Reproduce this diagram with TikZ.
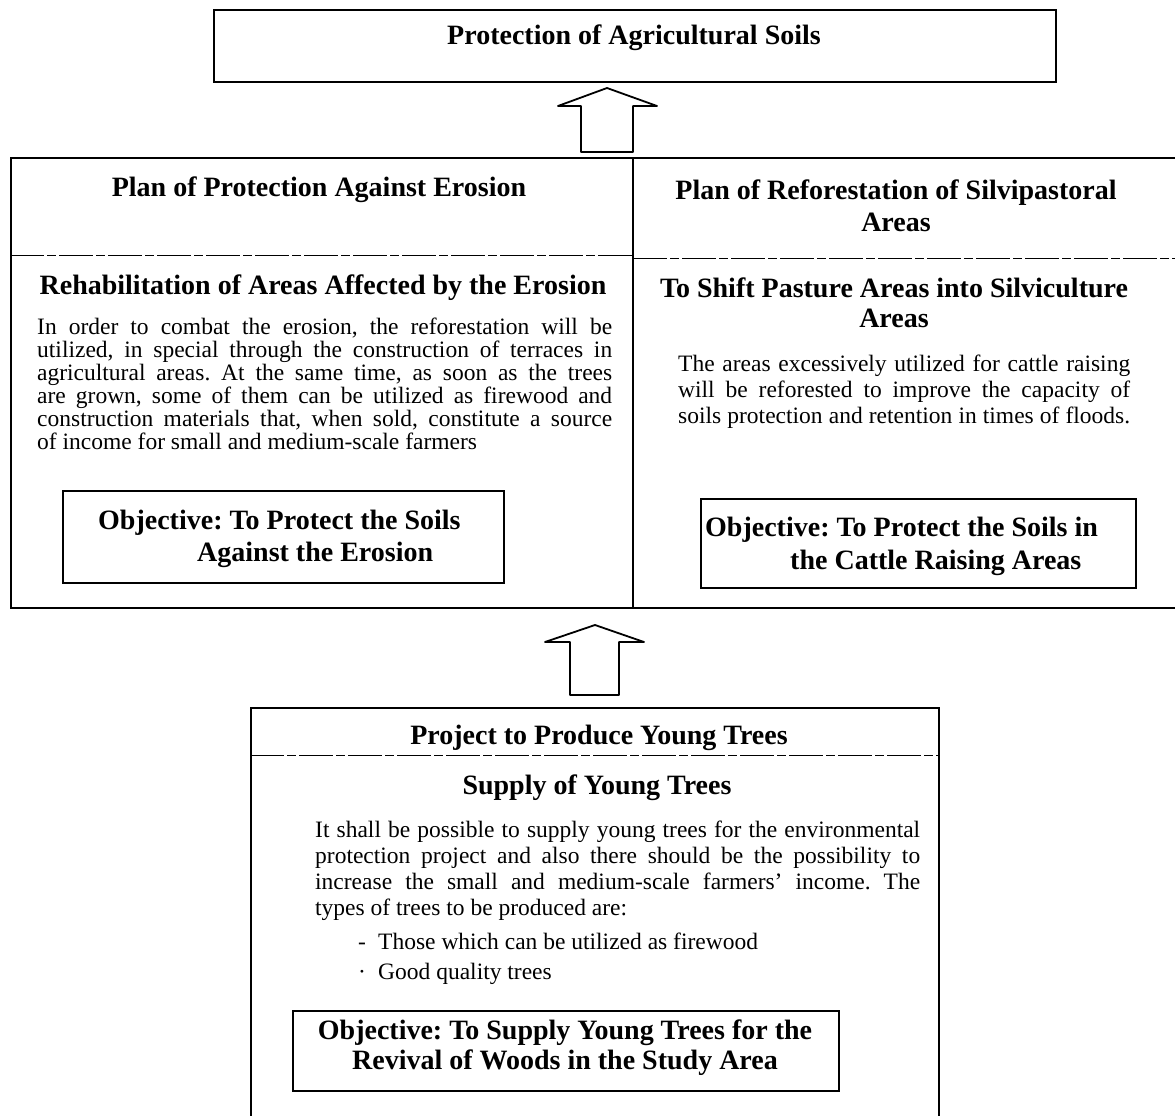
\documentclass[tikz,border=0pt]{standalone}
\usepackage{fontspec}
\setmainfont{Liberation Serif}
\frenchspacing
\newcommand\hdfont{\fontsize{28}{32}\selectfont\bfseries}
\newcommand\bdfont{\fontsize{23.5}{23}\selectfont\frenchspacing}
\begin{document}
\begin{tikzpicture}[x=1pt,y=-1pt,
  frame/.style={draw, line width=1.6pt, inner sep=0pt, anchor=north west},
  divline/.style={draw, line width=1.6pt},
  sepline/.style={draw, line width=0.9pt, dash pattern=on 34pt off 3pt on 9pt off 3pt},
  blockarrow/.style={draw, line width=1.8pt, line join=round, fill=white},
  hd/.style={inner sep=0pt, font=\hdfont},
  bd/.style={inner sep=0pt, font=\bdfont},
]
\useasboundingbox (0,0) rectangle (1175,1116);

% boxes
\node[frame, minimum width=842pt, minimum height=72pt] (topbox) at (213,9) {};
\node[frame, minimum width=1175pt, minimum height=450pt] (midbox) at (10,157) {};
\node[frame, minimum width=688pt, minimum height=425pt] (botbox) at (250,707) {};
\node[frame, minimum width=441pt, minimum height=92pt] (objL) at (62,490) {};
\node[frame, minimum width=435pt, minimum height=89pt] (objR) at (700,498) {};
\node[frame, minimum width=546pt, minimum height=80pt] (objB) at (292,1010) {};

% divider and separators
\coordinate (dtop) at (633,157);
\coordinate (dbot) at (633,607);
\draw[divline] (dtop) -- (dbot);
\coordinate (sepL1) at (10,255);
\coordinate (sepL2) at (633,255);
\coordinate (sepR1) at (633,258);
\coordinate (sepR2) at (1175,258);
\draw[sepline] (sepL1) -- (sepL2);
\draw[sepline] (sepR1) -- (sepR2);
\coordinate (sepB1) at (250,755);
\coordinate (sepB2) at (938,755);
\draw[sepline] (sepB1) -- (sepB2);

% block arrows
\draw[blockarrow] (581,152) -- (581,106) -- (558,106) -- (607,88) -- (657,106) -- (633,106) -- (633,152) -- cycle;
\draw[blockarrow] (570,695) -- (570,642) -- (545,642) -- (595,625) -- (644,642) -- (619,642) -- (619,695) -- cycle;

% headings
\node[hd, anchor=base] (t0) at (634,45) {Protection of Agricultural Soils};
\node[hd, anchor=base] (hL1) at (319,196) {Plan of Protection Against Erosion};
\node[hd, anchor=base] (hR1) at (896,199) {Plan of Reforestation of Silvipastoral};
\node[hd, anchor=base] (hR2) at (896,231) {Areas};
\node[hd, anchor=base] (sL) at (323,294) {Rehabilitation of Areas Affected by the Erosion};
\node[hd, anchor=base] (sR1) at (894,297) {To Shift Pasture Areas into Silviculture};
\node[hd, anchor=base] (sR2) at (894,327) {Areas};
\node[hd, anchor=base] (hB) at (599,744) {Project to Produce Young Trees};
\node[hd, anchor=base] (sB) at (597,794) {Supply of Young Trees};

% paragraphs
\node[bd, anchor=base west] (pL) at (37,334) {\parbox[t]{575pt}{\bdfont
\makebox[\linewidth][s]{In order to combat the erosion, the reforestation will be}\\
\makebox[\linewidth][s]{utilized, in special through the construction of terraces in}\\
\makebox[\linewidth][s]{agricultural areas. At the same time, as soon as the trees}\\
\makebox[\linewidth][s]{are grown, some of them can be utilized as firewood and}\\
\makebox[\linewidth][s]{construction materials that, when sold, constitute a source}\\
of income for small and medium-scale farmers}};

\node[bd, anchor=base west] (pR) at (678,371) {\parbox[t]{452pt}{\fontsize{23.5}{26}\selectfont
\makebox[\linewidth][s]{The areas excessively utilized for cattle raising}\\
\makebox[\linewidth][s]{will be reforested to improve the capacity of}\\
\makebox[\linewidth][s]{soils protection and retention in times of floods.}}};

\node[bd, anchor=base west] (pB) at (315,837) {\parbox[t]{605pt}{\fontsize{23.5}{26}\selectfont
\makebox[\linewidth][s]{It shall be possible to supply young trees for the environmental}\\
\makebox[\linewidth][s]{protection project and also there should be the possibility to}\\
\makebox[\linewidth][s]{increase the small and medium-scale farmers' income. The}\\
types of trees to be produced are:}};

\node[bd, anchor=base west] (b1m) at (358,949) {-};
\node[bd, anchor=base west] (b1) at (378,949) {Those which can be utilized as firewood};
\node[bd, anchor=base west] (b2m) at (358,979) {·};
\node[bd, anchor=base west] (b2) at (378,979) {Good quality trees};

% objectives
\node[hd, anchor=base west] (oL1) at (98,529) {Objective: To Protect the Soils};
\node[hd, anchor=base west] (oL2) at (197,561) {Against the Erosion};
\node[hd, anchor=base west] (oR1) at (705,536) {Objective: To Protect the Soils in};
\node[hd, anchor=base west] (oR2) at (790,569) {the Cattle Raising Areas};
\node[hd, anchor=base] (oB1) at (565,1039) {Objective: To Supply Young Trees for the};
\node[hd, anchor=base] (oB2) at (565,1069) {Revival of Woods in the Study Area};
\end{tikzpicture}
\end{document}
